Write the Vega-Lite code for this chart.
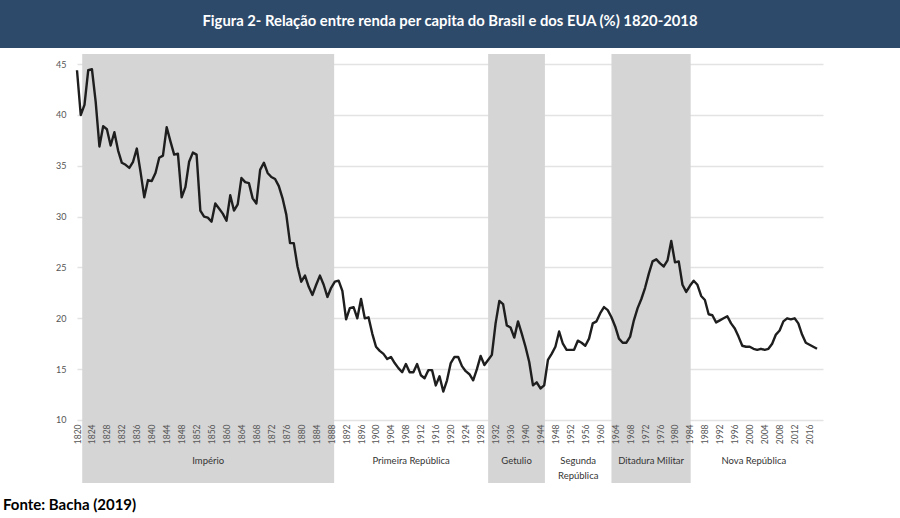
{
  "$schema": "https://vega.github.io/schema/vega-lite/v6.json",
  "padding": 0,
  "spacing": 6,
  "bounds": "flush",
  "center": true,
  "background": "white",
  "title": {
    "text": "Fonte: Bacha (2019)",
    "orient": "bottom",
    "anchor": "start",
    "font": "Lato",
    "fontSize": 15,
    "fontWeight": "bold",
    "color": "#000000",
    "offset": 15,
    "dx": 3
  },
  "datasets": {
    "cabecalho": [{"titulo": "Figura 2- Relação entre renda per capita do Brasil e dos EUA (%) 1820-2018"}],
    "periodos": [
      {"periodo": "Império", "inicio": 1821.4, "fim": 1888.8, "sombreado": true},
      {"periodo": "Primeira República", "inicio": 1888.8, "fim": 1930, "sombreado": false},
      {"periodo": "Getulio", "inicio": 1930, "fim": 1945.2, "sombreado": true},
      {"periodo": "Segunda\nRepública", "inicio": 1945.2, "fim": 1963, "sombreado": false},
      {"periodo": "Ditadura Militar", "inicio": 1963, "fim": 1984.2, "sombreado": true},
      {"periodo": "Nova República", "inicio": 1984.2, "fim": 2018, "sombreado": false}
    ],
    "renda": [
      {"ano": 1820, "valor": 44.4}, {"ano": 1821, "valor": 40.0}, {"ano": 1822, "valor": 41.0}, {"ano": 1823, "valor": 44.4},
      {"ano": 1824, "valor": 44.5}, {"ano": 1825, "valor": 41.3}, {"ano": 1826, "valor": 36.9}, {"ano": 1827, "valor": 38.9},
      {"ano": 1828, "valor": 38.6}, {"ano": 1829, "valor": 37.0}, {"ano": 1830, "valor": 38.3}, {"ano": 1831, "valor": 36.5},
      {"ano": 1832, "valor": 35.3}, {"ano": 1833, "valor": 35.1}, {"ano": 1834, "valor": 34.8}, {"ano": 1835, "valor": 35.4},
      {"ano": 1836, "valor": 36.7}, {"ano": 1837, "valor": 34.4}, {"ano": 1838, "valor": 31.9}, {"ano": 1839, "valor": 33.6},
      {"ano": 1840, "valor": 33.5}, {"ano": 1841, "valor": 34.3}, {"ano": 1842, "valor": 35.8}, {"ano": 1843, "valor": 36.0},
      {"ano": 1844, "valor": 38.8}, {"ano": 1845, "valor": 37.4}, {"ano": 1846, "valor": 36.1}, {"ano": 1847, "valor": 36.2},
      {"ano": 1848, "valor": 31.9}, {"ano": 1849, "valor": 32.9}, {"ano": 1850, "valor": 35.4}, {"ano": 1851, "valor": 36.3},
      {"ano": 1852, "valor": 36.1}, {"ano": 1853, "valor": 30.6}, {"ano": 1854, "valor": 30.0}, {"ano": 1855, "valor": 29.9},
      {"ano": 1856, "valor": 29.5}, {"ano": 1857, "valor": 31.3}, {"ano": 1858, "valor": 30.8}, {"ano": 1859, "valor": 30.3},
      {"ano": 1860, "valor": 29.6}, {"ano": 1861, "valor": 32.1}, {"ano": 1862, "valor": 30.6}, {"ano": 1863, "valor": 31.2},
      {"ano": 1864, "valor": 33.8}, {"ano": 1865, "valor": 33.4}, {"ano": 1866, "valor": 33.3}, {"ano": 1867, "valor": 31.8},
      {"ano": 1868, "valor": 31.3}, {"ano": 1869, "valor": 34.6}, {"ano": 1870, "valor": 35.3}, {"ano": 1871, "valor": 34.3},
      {"ano": 1872, "valor": 33.9}, {"ano": 1873, "valor": 33.7}, {"ano": 1874, "valor": 33.0}, {"ano": 1875, "valor": 31.8},
      {"ano": 1876, "valor": 30.2}, {"ano": 1877, "valor": 27.4}, {"ano": 1878, "valor": 27.4}, {"ano": 1879, "valor": 25.1},
      {"ano": 1880, "valor": 23.6}, {"ano": 1881, "valor": 24.2}, {"ano": 1882, "valor": 23.1}, {"ano": 1883, "valor": 22.3},
      {"ano": 1884, "valor": 23.3}, {"ano": 1885, "valor": 24.2}, {"ano": 1886, "valor": 23.3}, {"ano": 1887, "valor": 22.1},
      {"ano": 1888, "valor": 23.0}, {"ano": 1889, "valor": 23.6}, {"ano": 1890, "valor": 23.7}, {"ano": 1891, "valor": 22.7},
      {"ano": 1892, "valor": 19.9}, {"ano": 1893, "valor": 21.0}, {"ano": 1894, "valor": 21.1}, {"ano": 1895, "valor": 20.0},
      {"ano": 1896, "valor": 21.9}, {"ano": 1897, "valor": 20.0}, {"ano": 1898, "valor": 20.1}, {"ano": 1899, "valor": 18.5},
      {"ano": 1900, "valor": 17.2}, {"ano": 1901, "valor": 16.8}, {"ano": 1902, "valor": 16.5}, {"ano": 1903, "valor": 16.0},
      {"ano": 1904, "valor": 16.2}, {"ano": 1905, "valor": 15.6}, {"ano": 1906, "valor": 15.1}, {"ano": 1907, "valor": 14.7},
      {"ano": 1908, "valor": 15.5}, {"ano": 1909, "valor": 14.7}, {"ano": 1910, "valor": 14.7}, {"ano": 1911, "valor": 15.5},
      {"ano": 1912, "valor": 14.4}, {"ano": 1913, "valor": 14.1}, {"ano": 1914, "valor": 14.9}, {"ano": 1915, "valor": 14.9},
      {"ano": 1916, "valor": 13.4}, {"ano": 1917, "valor": 14.3}, {"ano": 1918, "valor": 12.8}, {"ano": 1919, "valor": 13.9},
      {"ano": 1920, "valor": 15.6}, {"ano": 1921, "valor": 16.2}, {"ano": 1922, "valor": 16.2}, {"ano": 1923, "valor": 15.3},
      {"ano": 1924, "valor": 14.8}, {"ano": 1925, "valor": 14.5}, {"ano": 1926, "valor": 13.9}, {"ano": 1927, "valor": 15.0},
      {"ano": 1928, "valor": 16.3}, {"ano": 1929, "valor": 15.4}, {"ano": 1930, "valor": 15.9}, {"ano": 1931, "valor": 16.4},
      {"ano": 1932, "valor": 19.5}, {"ano": 1933, "valor": 21.7}, {"ano": 1934, "valor": 21.4}, {"ano": 1935, "valor": 19.3},
      {"ano": 1936, "valor": 19.1}, {"ano": 1937, "valor": 18.1}, {"ano": 1938, "valor": 19.7}, {"ano": 1939, "valor": 18.5},
      {"ano": 1940, "valor": 17.2}, {"ano": 1941, "valor": 15.7}, {"ano": 1942, "valor": 13.4}, {"ano": 1943, "valor": 13.7},
      {"ano": 1944, "valor": 13.1}, {"ano": 1945, "valor": 13.4}, {"ano": 1946, "valor": 15.9}, {"ano": 1947, "valor": 16.5},
      {"ano": 1948, "valor": 17.2}, {"ano": 1949, "valor": 18.7}, {"ano": 1950, "valor": 17.5}, {"ano": 1951, "valor": 16.9},
      {"ano": 1952, "valor": 16.9}, {"ano": 1953, "valor": 16.9}, {"ano": 1954, "valor": 17.8}, {"ano": 1955, "valor": 17.6},
      {"ano": 1956, "valor": 17.3}, {"ano": 1957, "valor": 18.0}, {"ano": 1958, "valor": 19.5}, {"ano": 1959, "valor": 19.7},
      {"ano": 1960, "valor": 20.5}, {"ano": 1961, "valor": 21.1}, {"ano": 1962, "valor": 20.8}, {"ano": 1963, "valor": 20.1},
      {"ano": 1964, "valor": 19.2}, {"ano": 1965, "valor": 18.0}, {"ano": 1966, "valor": 17.6}, {"ano": 1967, "valor": 17.6},
      {"ano": 1968, "valor": 18.2}, {"ano": 1969, "valor": 19.8}, {"ano": 1970, "valor": 21.0}, {"ano": 1971, "valor": 21.9},
      {"ano": 1972, "valor": 23.0}, {"ano": 1973, "valor": 24.4}, {"ano": 1974, "valor": 25.6}, {"ano": 1975, "valor": 25.8},
      {"ano": 1976, "valor": 25.4}, {"ano": 1977, "valor": 25.1}, {"ano": 1978, "valor": 25.7}, {"ano": 1979, "valor": 27.6},
      {"ano": 1980, "valor": 25.5}, {"ano": 1981, "valor": 25.6}, {"ano": 1982, "valor": 23.3}, {"ano": 1983, "valor": 22.6},
      {"ano": 1984, "valor": 23.2}, {"ano": 1985, "valor": 23.7}, {"ano": 1986, "valor": 23.3}, {"ano": 1987, "valor": 22.2},
      {"ano": 1988, "valor": 21.8}, {"ano": 1989, "valor": 20.4}, {"ano": 1990, "valor": 20.3}, {"ano": 1991, "valor": 19.6},
      {"ano": 1992, "valor": 19.8}, {"ano": 1993, "valor": 20.0}, {"ano": 1994, "valor": 20.2}, {"ano": 1995, "valor": 19.5},
      {"ano": 1996, "valor": 19.0}, {"ano": 1997, "valor": 18.2}, {"ano": 1998, "valor": 17.3}, {"ano": 1999, "valor": 17.2},
      {"ano": 2000, "valor": 17.2}, {"ano": 2001, "valor": 17.0}, {"ano": 2002, "valor": 16.9}, {"ano": 2003, "valor": 17.0},
      {"ano": 2004, "valor": 16.9}, {"ano": 2005, "valor": 17.0}, {"ano": 2006, "valor": 17.5}, {"ano": 2007, "valor": 18.4},
      {"ano": 2008, "valor": 18.8}, {"ano": 2009, "valor": 19.7}, {"ano": 2010, "valor": 20.0}, {"ano": 2011, "valor": 19.9},
      {"ano": 2012, "valor": 20.0}, {"ano": 2013, "valor": 19.5}, {"ano": 2014, "valor": 18.4}, {"ano": 2015, "valor": 17.6},
      {"ano": 2016, "valor": 17.4}, {"ano": 2017, "valor": 17.2}, {"ano": 2018, "valor": 17.0}
    ]
  },
  "vconcat": [
    {
      "width": 900,
      "height": 48,
      "view": {"fill": "#2d4a6b", "stroke": null},
      "data": {"name": "cabecalho"},
      "mark": {"type": "text", "font": "Lato", "fontSize": 14.8, "fontWeight": "bold", "color": "#ffffff", "dy": -2},
      "encoding": {"text": {"field": "titulo", "type": "nominal"}}
    },
    {
      "width": 746,
      "height": 429,
      "view": {"stroke": null},
      "layer": [
        {
          "data": {"name": "periodos"},
          "transform": [{"filter": "datum.sombreado"}],
          "mark": {"type": "rect", "color": "#d5d5d5"},
          "encoding": {
            "x": {
              "field": "inicio", "type": "quantitative", "title": null,
              "scale": {"domain": [1820, 2019.6], "nice": false, "zero": false},
              "axis": {
                "values": [1820, 1824, 1828, 1832, 1836, 1840, 1844, 1848, 1852, 1856, 1860, 1864, 1868, 1872, 1876, 1880, 1884, 1888, 1892, 1896, 1900, 1904, 1908, 1912, 1916, 1920, 1924, 1928, 1932, 1936, 1940, 1944, 1948, 1952, 1956, 1960, 1964, 1968, 1972, 1976, 1980, 1984, 1988, 1992, 1996, 2000, 2004, 2008, 2012, 2016],
                "tickCount": 60,
                "format": "d",
                "labelAngle": 270,
                "labelFont": "Lato",
                "labelFontSize": 8.5,
                "labelColor": "#555555",
                "labelPadding": 4,
                "labelOverlap": false,
                "labelBound": false,
                "labelFlush": false,
                "domain": false,
                "ticks": false,
                "tickSize": 0,
                "grid": false,
                "offset": -63,
                "zindex": 1
              }
            },
            "x2": {"field": "fim"}
          }
        },
        {
          "data": {"name": "renda"},
          "mark": {"type": "line", "color": "#1e1e1e", "strokeWidth": 2.4, "strokeJoin": "round"},
          "encoding": {
            "x": {"field": "ano", "type": "quantitative", "title": null},
            "y": {
              "field": "valor", "type": "quantitative", "title": null,
              "scale": {"domain": [3.8, 46.0], "nice": false, "zero": false},
              "axis": {
                "values": [10, 15, 20, 25, 30, 35, 40, 45],
                "labelFont": "Lato",
                "labelFontSize": 9,
                "labelColor": "#555555",
                "labelPadding": 11,
                "domain": false,
                "ticks": false,
                "grid": true,
                "gridColor": "#e3e3e3",
                "gridWidth": 1.5
              }
            }
          }
        },
        {
          "data": {"name": "periodos"},
          "transform": [{"fold": ["inicio", "fim"], "as": ["limite", "ano"]}],
          "mark": {"type": "text", "font": "Lato", "fontSize": 9.5, "color": "#333333", "baseline": "top", "align": "center", "lineBreak": "\n", "lineHeight": 15},
          "encoding": {
            "x": {"field": "ano", "aggregate": "mean", "type": "quantitative", "title": null},
            "y": {"datum": 6.5},
            "text": {"field": "periodo", "type": "nominal"}
          }
        }
      ]
    }
  ],
  "config": {
    "axisX": {"labelOverlap": false}
  }
}
